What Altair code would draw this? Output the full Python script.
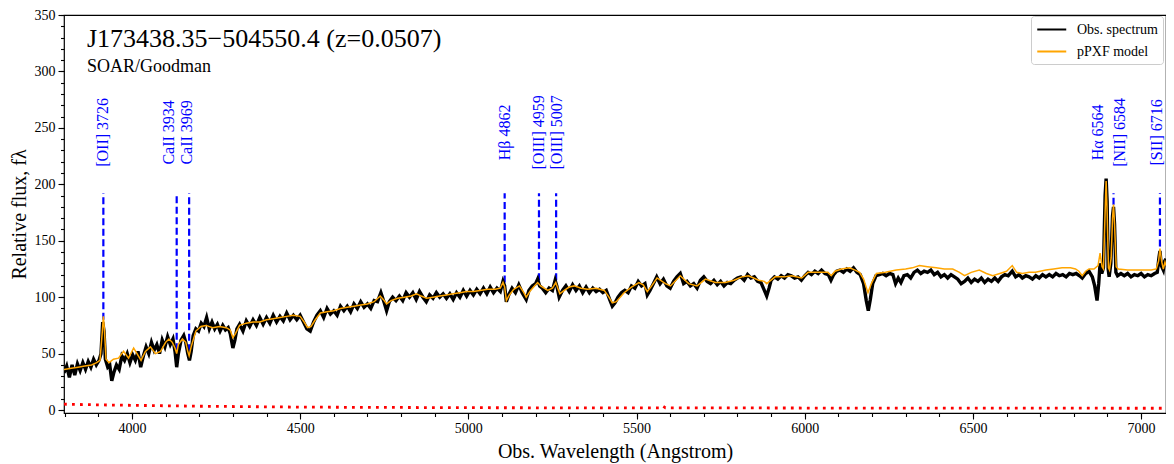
import altair as alt
import pandas as pd

# ---------------- data ----------------
obs_wave = [
    3798, 3806, 3814, 3822, 3830, 3838, 3846, 3854, 3862, 3870,
    3878, 3886, 3894, 3902, 3908, 3913, 3917, 3921, 3928, 3934,
    3940, 3946, 3954, 3962, 3970, 3978, 3986, 3994, 4002, 4010,
    4018, 4026, 4034, 4042, 4050, 4058, 4066, 4074, 4082, 4090,
    4098, 4106, 4114, 4122, 4128, 4133, 4138, 4146, 4154, 4160,
    4166, 4171, 4176, 4182, 4190, 4198, 4206, 4214, 4222, 4230,
    4238, 4246, 4254, 4262, 4270, 4278, 4286, 4292, 4300, 4306,
    4312, 4320, 4330, 4340, 4350, 4360, 4370, 4380, 4390, 4400,
    4410, 4420, 4430, 4440, 4450, 4460, 4470, 4480, 4490, 4500,
    4510, 4520, 4530, 4540, 4550, 4560, 4570, 4580, 4590, 4600,
    4610, 4620, 4630, 4640, 4650, 4660, 4670, 4680, 4690, 4700,
    4710, 4720, 4730, 4740, 4750, 4757, 4765, 4775, 4785, 4795,
    4805, 4815, 4825, 4835, 4845, 4855, 4865, 4875, 4885, 4895,
    4905, 4915, 4925, 4935, 4945, 4955, 4965, 4975, 4985, 4995,
    5005, 5015, 5025, 5035, 5045, 5055, 5065, 5075, 5085, 5095,
    5103, 5108, 5113, 5120, 5130, 5140, 5150, 5160, 5172, 5180,
    5190, 5200, 5206, 5212, 5220, 5230, 5240, 5250, 5258, 5263,
    5270, 5280, 5290, 5300, 5310, 5320, 5330, 5340, 5350, 5360,
    5370, 5380, 5390, 5400, 5410, 5420, 5428, 5436, 5445, 5455,
    5465, 5475, 5485, 5495, 5505, 5515, 5525, 5532, 5540, 5550,
    5560, 5570, 5580, 5590, 5600, 5610, 5620, 5630, 5640, 5650,
    5660, 5670, 5680, 5690, 5700, 5710, 5720, 5730, 5740, 5750,
    5760, 5770, 5780, 5790, 5800, 5810, 5820, 5830, 5840, 5850,
    5860, 5870, 5880, 5887, 5894, 5900, 5910, 5920, 5930, 5940,
    5950, 5960, 5970, 5980, 5990, 6000, 6010, 6020, 6030, 6040,
    6050, 6060, 6070, 6078, 6086, 6095, 6105, 6115, 6125, 6135,
    6145, 6155, 6165, 6175, 6183, 6189, 6195, 6202, 6212, 6222,
    6232, 6242, 6252, 6262, 6270, 6278, 6286, 6295, 6305, 6315,
    6325, 6335, 6345, 6355, 6365, 6375, 6385, 6395, 6405, 6415,
    6425, 6435, 6445, 6455, 6465, 6475, 6485, 6495, 6505, 6515,
    6525, 6535, 6545, 6555, 6565, 6575, 6585, 6595, 6605, 6617,
    6627, 6637, 6647, 6657, 6667, 6677, 6687, 6697, 6707, 6717,
    6727, 6737, 6747, 6757, 6767, 6777, 6787, 6797, 6807, 6817,
    6825, 6835, 6845, 6855, 6862, 6869, 6874, 6878, 6883, 6888,
    6893, 6896, 6899, 6902, 6905, 6910, 6915, 6918, 6921, 6925,
    6930, 6940, 6950, 6960, 6970, 6980, 6990, 7000, 7010, 7020,
    7030, 7040, 7048, 7053, 7056, 7060, 7066, 7070, 7074,
]
obs_flux = [
    33, 39, 29, 40, 31, 41, 35, 42, 36, 43,
    38, 45, 40, 44, 50, 78, 70, 45, 38, 40,
    26, 33, 40, 36, 48, 44, 50, 42, 49, 44,
    52, 38, 48, 56, 50, 60, 53, 58, 50, 62,
    56, 65, 58, 63, 52, 38, 50, 62, 66, 60,
    50, 44, 52, 66, 72, 70, 77, 74, 82, 72,
    78, 72, 76, 70, 75, 71, 73, 68, 55, 62,
    72, 76, 70, 79, 74, 80, 75, 82, 76, 82,
    77, 84, 78, 83, 79, 86, 80, 84, 80, 84,
    78, 72, 70, 78, 84, 88, 82, 90, 85, 88,
    84, 92, 88, 92, 87, 94, 90, 96, 91, 94,
    90, 97, 96, 104, 95, 88, 96, 100, 97, 101,
    97, 104, 100, 104, 98, 105, 100, 96, 102, 99,
    104, 100, 103, 99, 103, 98, 104, 100, 106, 101,
    106, 102, 107, 103, 108, 103, 109, 104, 108, 105,
    114, 110, 96, 102, 108, 104, 111, 104, 98, 106,
    110, 112, 116, 110, 108, 104, 108, 106, 115, 110,
    100, 106, 110, 105, 111, 106, 110, 104, 109, 104,
    108, 105, 107, 104, 106, 98, 92, 95, 100, 104,
    106, 104, 110, 108, 114, 110, 112, 102, 106, 112,
    118, 112, 116, 110, 108, 114, 118, 121, 112, 114,
    110, 112, 108, 115, 118, 114, 112, 115, 111, 114,
    110, 113, 112, 115, 117, 118, 115, 120, 117, 118,
    114, 113, 106, 101, 108, 115, 118, 116, 119, 117,
    120, 119, 117, 118, 115, 119, 122, 120, 123, 121,
    124, 121, 120, 115, 120, 123, 124, 122, 125, 123,
    126, 122, 120, 112, 97, 88, 98, 112, 119, 120,
    121, 119, 121, 120, 112, 117, 113, 119, 120, 117,
    122, 124, 121, 123, 122, 124, 120, 122, 118, 120,
    117, 120, 118, 116, 112, 114, 117, 113, 116, 114,
    117, 113, 116, 114, 117, 114, 118, 120, 119, 123,
    118, 120, 117, 119, 118, 116, 119, 117, 120, 118,
    120, 118, 121, 119, 120, 118, 121, 120, 121, 119,
    117, 121, 123, 118, 110, 97, 112, 130, 121, 126,
    190, 205, 185, 125, 118, 130, 172, 180, 165, 122,
    119, 121, 119, 121, 118, 120, 119, 121, 118, 120,
    119, 121, 122, 135, 141, 128, 124, 132, 134,
]

model_wave = [
    3798, 3820, 3840, 3860, 3880, 3895, 3905, 3912, 3915, 3918,
    3923, 3932, 3945, 3960, 3975, 3990, 4005, 4015, 4027, 4040,
    4055, 4070, 4085, 4100, 4110, 4120, 4128, 4133, 4138, 4150,
    4160, 4166, 4170, 4176, 4190, 4205, 4220, 4240, 4260, 4280,
    4292, 4300, 4308, 4320, 4340, 4360, 4380, 4400, 4420, 4440,
    4460, 4480, 4500, 4512, 4522, 4532, 4545, 4560, 4580, 4600,
    4620, 4640, 4660, 4680, 4700, 4720, 4738, 4750, 4757, 4770,
    4790, 4810, 4830, 4846, 4860, 4876, 4895, 4915, 4935, 4955,
    4975, 4995, 5015, 5035, 5058, 5080, 5095, 5103, 5108, 5113,
    5122, 5135, 5152, 5165, 5172, 5185, 5200, 5206, 5215, 5236,
    5250, 5260, 5266, 5272, 5285, 5300, 5315, 5335, 5354, 5380,
    5404, 5418, 5428, 5440, 5463, 5485, 5507, 5520, 5532, 5545,
    5561, 5586, 5601, 5630, 5655, 5680, 5705, 5734, 5764, 5790,
    5813, 5833, 5863, 5880, 5887, 5895, 5912, 5940, 5961, 5991,
    6010, 6040, 6069, 6079, 6090, 6109, 6133, 6150, 6163, 6175,
    6188, 6198, 6213, 6240, 6272, 6300, 6320, 6341, 6365, 6391,
    6415, 6440, 6460, 6475, 6495, 6519, 6540, 6559, 6580, 6600,
    6617, 6630, 6647, 6667, 6686, 6717, 6740, 6765, 6790, 6805,
    6815, 6825, 6835, 6845, 6860, 6872, 6878, 6884, 6888, 6893,
    6896, 6899, 6903, 6906, 6911, 6915, 6918, 6921, 6926, 6932,
    6960, 7000, 7030, 7045, 7052, 7056, 7061, 7066, 7071, 7074,
]
model_flux = [
    36, 37, 38, 39, 40, 42, 44, 70, 83, 72,
    45, 42, 45, 46, 52, 46, 55, 50, 44, 52,
    56, 50, 52, 60, 63, 60, 55, 50, 58, 63,
    60, 52, 48, 56, 70, 74, 75, 73, 74, 73,
    71, 64, 68, 75, 77, 78, 78, 80, 81, 82,
    83, 84, 83, 78, 73, 74, 80, 86, 87, 88,
    90, 91, 92, 93, 94, 96, 101, 97, 94, 97,
    99, 100, 101, 103, 101, 99, 100, 101, 102, 103,
    104, 105, 105, 106, 107, 107, 108, 113, 109, 97,
    102, 107, 110, 104, 100, 106, 111, 113, 110, 106,
    108, 113, 108, 103, 106, 109, 110, 108, 107, 108,
    106, 100, 95, 96, 104, 109, 113, 111, 105, 110,
    117, 112, 110, 119, 112, 110, 116, 113, 113, 115,
    118, 119, 115, 114, 112, 114, 118, 118, 119, 117,
    122, 122, 122, 119, 123, 125, 126, 124, 122, 116,
    104, 112, 121, 122, 124, 125, 126, 128, 127, 126,
    125, 125, 122, 119, 122, 124, 121, 119, 121, 123,
    128, 122, 121, 122, 122, 124, 125, 126, 126, 125,
    123, 119, 123, 125, 125, 128, 139, 127, 125, 175,
    203, 175, 126, 124, 135, 170, 182, 165, 127, 125,
    124, 124, 124, 125, 132, 143, 132, 125, 131, 128,
]

err_wave = [3798, 3900, 4000, 4200, 4500, 5000, 5500, 5570, 5578, 5586, 6000, 6500, 7074]
err_flux = [5.2, 4.6, 4.2, 3.4, 2.6, 2.1, 1.9, 2.0, 3.6, 2.0, 1.8, 1.7, 1.6]

line_labels = ["[OII] 3726", "CaII 3934", "CaII 3969", "H\u03b2 4862", "[OIII] 4959",
               "[OIII] 5007", "H\u03b1 6564", "[NII] 6584", "[SII] 6716"]
line_wave = [3915, 4133, 4170, 5108, 5210, 5261, 6896, 6918, 7056]
line_bottom = [80, 53, 52, 113, 115, 115, 203, 182, 145]
line_top = [192, 192, 192, 192, 192, 192, 192, 192, 192]
label_wave = [3913, 4111, 4165, 5108, 5210, 5263, 6872, 6936, 7048]
label_level = 246

x_major = [4000, 4500, 5000, 5500, 6000, 6500, 7000]
x_minor = list(range(3800, 7001, 100))
y_major = [0, 50, 100, 150, 200, 250, 300, 350]
y_minor = list(range(0, 351, 10))

title_text = ["J173438.35\u2212504550.4 (z=0.0507)"]
subtitle_text = ["SOAR/Goodman"]
series_names = ["Obs. spectrum", "pPXF model"]

# ---------------- tables ----------------
obs = pd.DataFrame({"wave": obs_wave, "flux": obs_flux, "series": series_names[0]})
mod = pd.DataFrame({"wave": model_wave, "flux": model_flux, "series": series_names[1]})
err = pd.DataFrame({"wave": err_wave, "flux": err_flux})
lines = pd.DataFrame({"label": line_labels, "wave": line_wave, "flux": line_bottom,
                      "top": line_top, "label_wave": label_wave})
lines["ly"] = label_level
ttl = pd.DataFrame({"t": title_text})
sub = pd.DataFrame({"t": subtitle_text})

SERIF = "Liberation Serif"
xscale = alt.Scale(domain=[3798, 7074], nice=False, zero=False)
yscale = alt.Scale(domain=[-2.6, 350], nice=False, zero=False)

x_axis = alt.Axis(
    title="Obs. Wavelength (Angstrom)", values=x_major, format="d",
    tickSize=6, labelPadding=2, titlePadding=6, labelFlush=False,
)
y_axis = alt.Axis(
    title="Relative flux, f\u03bb", values=y_major, format="d",
    tickSize=6, labelPadding=3, titlePadding=5, labelFlush=False,
)
x_minor_axis = alt.Axis(values=x_minor, labels=False, title=None, tickSize=3.5, orient="bottom")
y_minor_axis = alt.Axis(values=y_minor, labels=False, title=None, tickSize=3.5, orient="left")


def X(field="wave"):
    return alt.X(f"{field}:Q", scale=xscale, axis=x_axis)


def Y(field="flux"):
    return alt.Y(f"{field}:Q", scale=yscale, axis=y_axis)


color = alt.Color(
    "series:N",
    scale=alt.Scale(domain=series_names, range=["#000000", "#FFA500"]),
    legend=alt.Legend(
        title=None, orient="none", legendX=967, legendY=1,
        symbolType="M-1,0H3", symbolSize=210, symbolStrokeWidth=2,
        labelFont=SERIF, labelFontSize=14, labelColor="black", labelOffset=24,
        padding=5, rowPadding=6, strokeColor="#cccccc",
        fillColor="rgba(255,255,255,0.8)", cornerRadius=3,
    ),
)

rules = alt.Chart(lines).mark_rule(color="#0000ff", strokeWidth=2.2, strokeDash=[7, 3.5]).encode(
    x=X("wave"), y=Y("flux"), y2="top:Q"
)
labels = alt.Chart(lines).mark_text(
    angle=270, align="center", baseline="middle", color="#0000ff", font=SERIF, fontSize=16
).encode(x=X("label_wave"), y=Y("ly"), text="label:N")

obs_line = alt.Chart(obs).mark_line(strokeWidth=3.4, clip=True).encode(x=X(), y=Y(), color=color)
mod_line = alt.Chart(mod).mark_line(strokeWidth=1.5, clip=True).encode(x=X(), y=Y(), color=color)
err_line = alt.Chart(err).mark_line(color="red", strokeWidth=2.8, strokeDash=[2.8, 5.2], clip=True).encode(
    x=X(), y=Y()
)

title_mark = alt.Chart(ttl).mark_text(
    align="left", baseline="alphabetic", font=SERIF, fontSize=26, color="black"
).encode(x=alt.value(23), y=alt.value(32), text="t:N")
sub_mark = alt.Chart(sub).mark_text(
    align="left", baseline="alphabetic", font=SERIF, fontSize=18, color="black"
).encode(x=alt.value(23), y=alt.value(57), text="t:N")

main = alt.layer(rules, labels, obs_line, mod_line, err_line, title_mark, sub_mark)

# invisible layer that only carries the minor-tick axes
minor = alt.Chart(err).mark_point(opacity=0).encode(
    x=alt.X("wave:Q", scale=xscale, axis=x_minor_axis),
    y=alt.Y("flux:Q", scale=yscale, axis=y_minor_axis),
)

chart = (
    alt.layer(main, minor)
    .resolve_axis(x="independent", y="independent")
    .properties(
        width=1102, height=398,
        autosize=alt.AutoSizeParams(type="none"),
        padding={"left": 56, "top": 7, "right": 0, "bottom": 51},
    )
    .configure_view(stroke="black", strokeWidth=1.2)
    .configure_axis(
        domain=False, grid=False, tickColor="black", tickWidth=1.1,
        labelColor="black", titleColor="black",
        labelFont=SERIF, titleFont=SERIF, labelFontSize=14, titleFontSize=20,
        titleFontWeight="normal",
    )
)

chart.save("out.html", embed_options={"renderer": "svg", "actions": False})
